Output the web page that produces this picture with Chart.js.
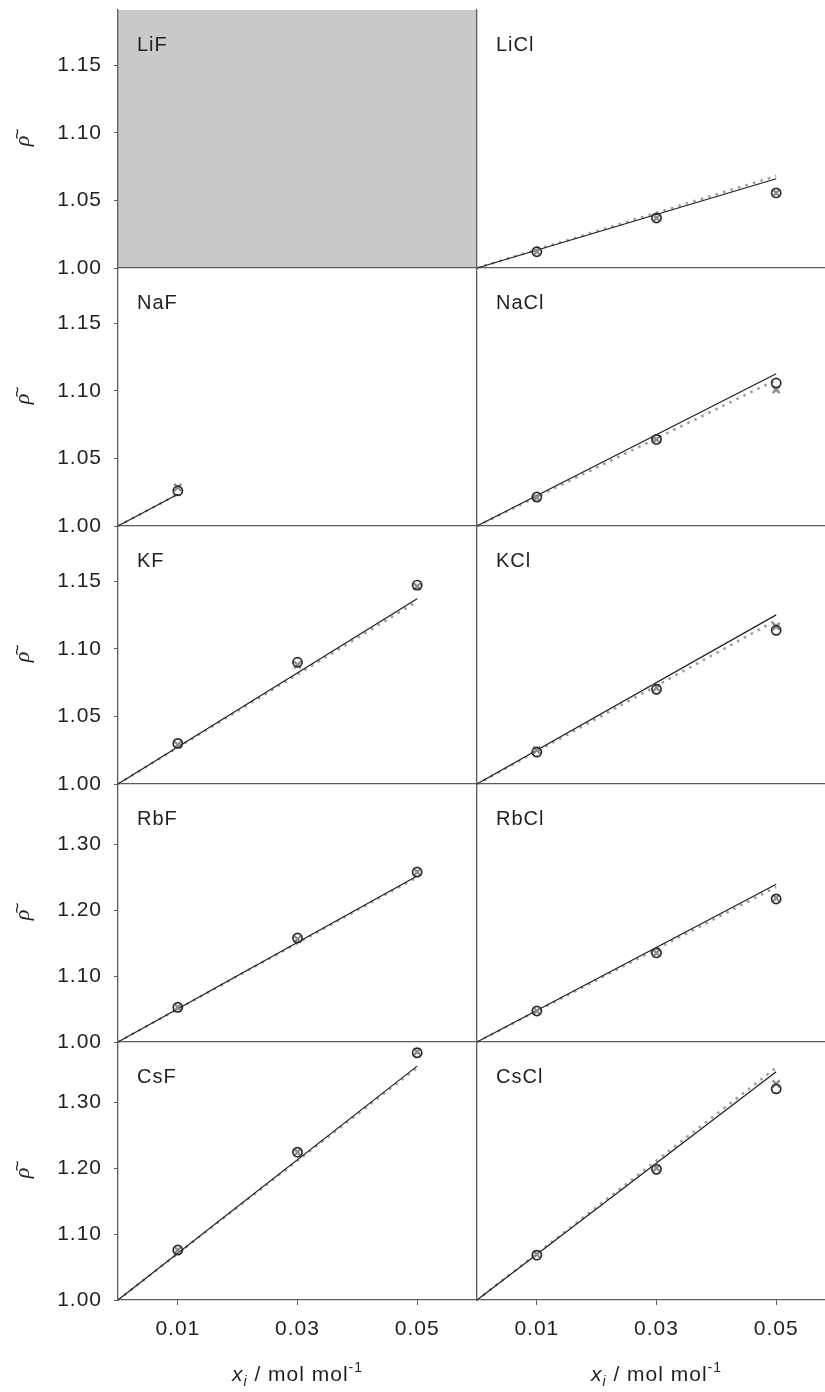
<!DOCTYPE html>
<html><head><meta charset="utf-8">
<script src="https://cdn.jsdelivr.net/npm/chart.js@4.4.1/dist/chart.umd.min.js"></script>
<style>
html,body{margin:0;padding:0;background:#fff;overflow:hidden;width:825px;height:1392px;}
#wrap{position:relative;width:825px;height:1392px;overflow:hidden;background:#fff;}
#wrap canvas{position:absolute;}
</style></head><body><div id="wrap"></div>
<script>
// ---- data ----
const salts = ['LiF','LiCl','NaF','NaCl','KF','KCl','RbF','RbCl','CsF','CsCl'];
const xPoints = [0.01, 0.03, 0.05];
const xPointsNaF = [0.01];
const lineX = [0, 0.05];
const lineXNaF = [0, 0.01];
const xTicks = [0.01, 0.03, 0.05];
const yTicksLow = [1.00, 1.05, 1.10, 1.15];
const yTicksHigh = [1.00, 1.10, 1.20, 1.30];

const LiF_circle = [];          const LiF_cross = [];          const LiF_solid = [];            const LiF_dotted = [];
const LiCl_circle = [1.012, 1.037, 1.0555]; const LiCl_cross = [1.012, 1.037, 1.0555]; const LiCl_solid = [1.00, 1.066]; const LiCl_dotted = [1.00, 1.068];
const NaF_circle = [1.026];     const NaF_cross = [1.0285];    const NaF_solid = [1.00, 1.0235]; const NaF_dotted = [1.00, 1.0235];
const NaCl_circle = [1.0214, 1.064, 1.1057]; const NaCl_cross = [1.021, 1.064, 1.1008]; const NaCl_solid = [1.00, 1.1126]; const NaCl_dotted = [1.00, 1.108];
const KF_circle = [1.030, 1.090, 1.147]; const KF_cross = [1.029, 1.088, 1.146]; const KF_solid = [1.00, 1.137]; const KF_dotted = [1.00, 1.135];
const KCl_circle = [1.0236, 1.070, 1.1136]; const KCl_cross = [1.025, 1.071, 1.1165]; const KCl_solid = [1.00, 1.125]; const KCl_dotted = [1.00, 1.121];
const RbF_circle = [1.0526, 1.1576, 1.2576]; const RbF_cross = [1.0526, 1.156, 1.2576]; const RbF_solid = [1.00, 1.2515]; const RbF_dotted = [1.00, 1.250];
const RbCl_circle = [1.047, 1.135, 1.2167]; const RbCl_cross = [1.047, 1.135, 1.218]; const RbCl_solid = [1.00, 1.239]; const RbCl_dotted = [1.00, 1.235];
const CsF_circle = [1.0757, 1.224, 1.3746]; const CsF_cross = [1.0757, 1.224, 1.376]; const CsF_solid = [1.00, 1.3544]; const CsF_dotted = [1.00, 1.352];
const CsCl_circle = [1.068, 1.198, 1.320]; const CsCl_cross = [1.069, 1.200, 1.3275]; const CsCl_solid = [1.00, 1.346]; const CsCl_dotted = [1.00, 1.352];

const seriesBySalt = {
  LiF: [LiF_circle, LiF_cross, LiF_solid, LiF_dotted],
  LiCl: [LiCl_circle, LiCl_cross, LiCl_solid, LiCl_dotted],
  NaF: [NaF_circle, NaF_cross, NaF_solid, NaF_dotted],
  NaCl: [NaCl_circle, NaCl_cross, NaCl_solid, NaCl_dotted],
  KF: [KF_circle, KF_cross, KF_solid, KF_dotted],
  KCl: [KCl_circle, KCl_cross, KCl_solid, KCl_dotted],
  RbF: [RbF_circle, RbF_cross, RbF_solid, RbF_dotted],
  RbCl: [RbCl_circle, RbCl_cross, RbCl_solid, RbCl_dotted],
  CsF: [CsF_circle, CsF_cross, CsF_solid, CsF_dotted],
  CsCl: [CsCl_circle, CsCl_cross, CsCl_solid, CsCl_dotted]
};

// ---- styling / layout ----
const AXIS = '#5c5c5c';
const TEXT = '#231f20';
const FONT = '"Liberation Sans", Arial, sans-serif';
const ROW_TOP = 10, ROW_H = 258, PAD = 14;
const LEFT_AXIS = 118, SPLIT = 477, RIGHT_END = 836, BOTTOM_H = 92;

function pts(xs, ys) { return ys.map((y, i) => ({x: xs[i], y})); }
function noPad(s) { s.paddingLeft = 0; s.paddingRight = 0; s.paddingTop = 0; s.paddingBottom = 0; }

const spacing = {
  id: 'spacing',
  beforeLayout(chart) { chart.ctx.letterSpacing = '1px'; },
  beforeDraw(chart) { chart.ctx.letterSpacing = '1px'; }
};

const panelDeco = {
  id: 'panelDeco',
  beforeDraw(chart, args, opts) {
    const {ctx, chartArea: a} = chart;
    if (opts.fill) {
      ctx.save();
      ctx.fillStyle = opts.fill;
      ctx.fillRect(a.left, a.top, a.right - a.left, a.bottom - a.top);
      ctx.restore();
    }
  },
  afterDraw(chart, args, opts) {
    const {ctx, chartArea: a} = chart;
    ctx.save();
    ctx.letterSpacing = '1px';
    ctx.fillStyle = TEXT;
    ctx.textBaseline = 'alphabetic';
    ctx.textAlign = 'left';
    ctx.font = '20px ' + FONT;
    ctx.fillText(opts.label, a.left + 19, a.top + 41);
    if (opts.yTitle) {
      ctx.save();
      ctx.letterSpacing = '0px';
      ctx.translate(29, (a.top + a.bottom) / 2);
      ctx.rotate(-Math.PI / 2);
      ctx.textAlign = 'center';
      ctx.font = 'italic 22px "Liberation Serif", serif';
      ctx.fillText('ρ', -2, 0);
      ctx.font = '19px ' + FONT;
      ctx.fillText('~', 5, -6);
      ctx.restore();
    }
    if (opts.xTitle) {
      const parts = [
        {t: 'x', f: 'italic 21px ' + FONT, dy: 0},
        {t: 'i', f: 'italic 14px ' + FONT, dy: 5},
        {t: ' / mol mol', f: '21px ' + FONT, dy: 0},
        {t: '-1', f: '14px ' + FONT, dy: -9}
      ];
      let w = 0;
      parts.forEach(p => { ctx.font = p.f; p.w = ctx.measureText(p.t).width; w += p.w; });
      let x = (a.left + a.right) / 2 - w / 2;
      const base = opts.xTitleY;
      parts.forEach(p => { ctx.font = p.f; ctx.fillText(p.t, x, base + p.dy); x += p.w; });
    }
    ctx.restore();
  }
};

const wrap = document.getElementById('wrap');

salts.forEach((salt, k) => {
  const row = Math.floor(k / 2), col = k % 2;
  const rowTop = ROW_TOP + row * ROW_H;
  const isBottom = row === 4;
  const high = row >= 3;
  const canvasTop = rowTop - PAD;
  const canvasLeft = col === 0 ? 0 : SPLIT - 10;
  const width = col === 0 ? SPLIT : RIGHT_END - canvasLeft;
  const height = isBottom ? PAD + ROW_H + BOTTOM_H : ROW_H + 2 * PAD;

  const cv = document.createElement('canvas');
  cv.width = width; cv.height = height;
  cv.style.left = canvasLeft + 'px'; cv.style.top = canvasTop + 'px';
  cv.style.width = width + 'px'; cv.style.height = height + 'px';
  wrap.appendChild(cv);

  const [circ, cross, solid, dotted] = seriesBySalt[salt];
  const xs = salt === 'NaF' ? xPointsNaF : xPoints;
  const lx = salt === 'NaF' ? lineXNaF : lineX;
  const yTicks = high ? yTicksHigh : yTicksLow;

  new Chart(cv, {
    type: 'scatter',
    data: {
      datasets: [
        {data: pts(xs, circ), pointStyle: 'circle', pointRadius: 4.6, borderWidth: 1.7,
         borderColor: '#2a2a2a', backgroundColor: 'rgba(0,0,0,0)', showLine: false, clip: false},
        {data: pts(xs, cross), pointStyle: 'crossRot', pointRadius: 5, borderWidth: 2.3,
         borderColor: '#8c8c8c', backgroundColor: '#8c8c8c', showLine: false, clip: false},
        {data: pts(lx, solid), showLine: true, pointRadius: 0, borderColor: '#1e1e1e', borderWidth: 1.2, clip: false},
        {data: pts(lx, dotted), showLine: true, pointRadius: 0, borderColor: '#a0a0a0', borderWidth: 2.6,
         borderDash: [2.6, 5.2], clip: false}
      ]
    },
    options: {
      responsive: false, animation: false, devicePixelRatio: 1, events: [],
      layout: {autoPadding: false,
               padding: {left: col === 0 ? 0 : 10, right: 0, top: PAD, bottom: isBottom ? 0 : PAD}},
      plugins: {
        legend: {display: false}, tooltip: {enabled: false},
        panelDeco: {label: salt, fill: salt === 'LiF' ? '#c8c9cb' : null, yTitle: col === 0,
                    xTitle: isBottom, xTitleY: 1381 - canvasTop}
      },
      scales: {
        x: {
          type: 'linear', min: 0, max: 0.06,
          afterBuildTicks: s => { s.ticks = xTicks.map(v => ({value: v})); },
          afterFit: s => { s.height = isBottom ? BOTTOM_H : 0; noPad(s); },
          ticks: {display: isBottom, font: {family: FONT, size: 21}, color: TEXT, padding: 12,
                  maxRotation: 0, callback: v => v.toFixed(2)},
          grid: {display: isBottom, drawOnChartArea: false, drawTicks: true, tickLength: 5, color: AXIS, lineWidth: 1},
          border: {display: true, color: AXIS, width: 1.3}
        },
        y: {
          type: 'linear', min: 1.0, max: high ? 1.391 : 1.1907,
          afterBuildTicks: s => { s.ticks = yTicks.map(v => ({value: v})); },
          afterFit: s => { s.width = col === 0 ? LEFT_AXIS : 0; noPad(s); },
          ticks: {display: col === 0, font: {family: FONT, size: 21}, color: TEXT, padding: 12,
                  callback: v => v.toFixed(2)},
          grid: {display: col === 0, drawOnChartArea: false, drawTicks: true, tickLength: 4, color: AXIS, lineWidth: 1},
          border: {display: true, color: AXIS, width: 1.3}
        }
      }
    },
    plugins: [spacing, panelDeco]
  });
});
</script></body></html>
